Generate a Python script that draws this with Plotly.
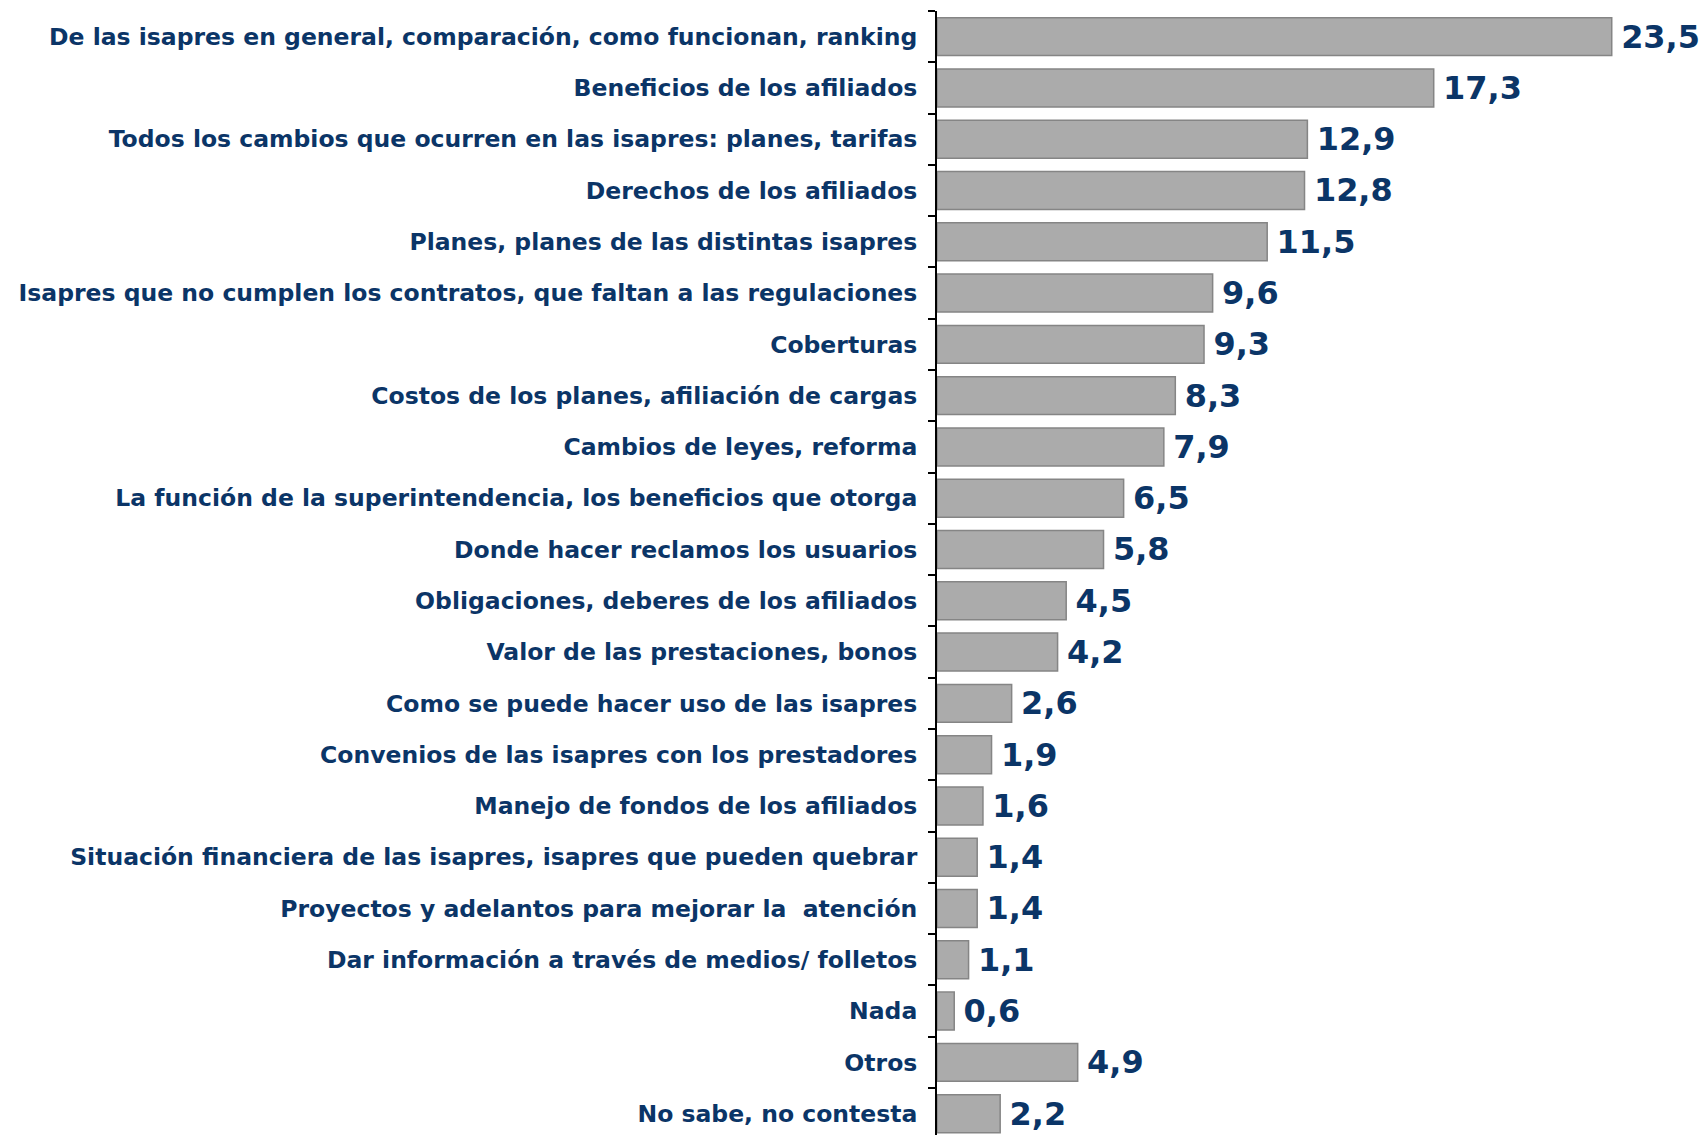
import plotly.graph_objects as go

categories = [
    "De las isapres en general, comparación, como funcionan, ranking",
    "Beneficios de los afiliados",
    "Todos los cambios que ocurren en las isapres: planes, tarifas",
    "Derechos de los afiliados",
    "Planes, planes de las distintas isapres",
    "Isapres que no cumplen los contratos, que faltan a las regulaciones",
    "Coberturas",
    "Costos de los planes, afiliación de cargas",
    "Cambios de leyes, reforma",
    "La función de la superintendencia, los beneficios que otorga",
    "Donde hacer reclamos los usuarios",
    "Obligaciones, deberes de los afiliados",
    "Valor de las prestaciones, bonos",
    "Como se puede hacer uso de las isapres",
    "Convenios de las isapres con los prestadores",
    "Manejo de fondos de los afiliados",
    "Situación financiera de las isapres, isapres que pueden quebrar",
    "Proyectos y adelantos para mejorar la  atención",
    "Dar información a través de medios/ folletos",
    "Nada",
    "Otros",
    "No sabe, no contesta",
]
values = [23.5, 17.3, 12.9, 12.8, 11.5, 9.6, 9.3, 8.3, 7.9, 6.5, 5.8, 4.5, 4.2,
          2.6, 1.9, 1.6, 1.4, 1.4, 1.1, 0.6, 4.9, 2.2]

NAVY = "#0B3567"

fig = go.Figure(go.Bar(
    y=categories,
    x=values,
    orientation="h",
    marker=dict(color="#ababab", line=dict(color="#858585", width=1.5)),
    texttemplate="\u2009%{x:.1f}",
    textposition="outside",
    cliponaxis=False,
    textfont=dict(family="DejaVu Sans", size=32, color=NAVY, weight="bold"),
    hoverinfo="skip",
))

W, H = 1706, 1135
top = 10.7
spacing = 51.3
plot_h = H - top
units = plot_h / spacing
px_per_unit = (1611.7 - 936.7) / 23.5
plot_w = W - 936.7
fig.update_layout(
    width=W, height=H,
    margin=dict(l=936.7, r=0, t=top, b=0, pad=0),
    plot_bgcolor="white", paper_bgcolor="white",
    separators=",.",
    bargap=0.26,
    showlegend=False,
    xaxis=dict(range=[0, plot_w / px_per_unit], visible=False, showgrid=False,
               zeroline=False),
    yaxis=dict(
        type="category",
        categoryorder="array", categoryarray=categories,
        range=[-0.5 + units, -0.5],
        showline=True, linecolor="black", linewidth=2,
        ticks="outside", tickson="boundaries", ticklen=7, tickcolor="black",
        tickwidth=1.5,
        showgrid=False, zeroline=False,
        ticklabelstandoff=13,
        tickfont=dict(family="DejaVu Sans", size=23.5, color=NAVY, weight="bold"),
    ),
)

fig.write_html(
    "out.html",
    config={"displayModeBar": False},
    post_script="document.body.style.margin='0';document.body.style.overflow='hidden';",
)
